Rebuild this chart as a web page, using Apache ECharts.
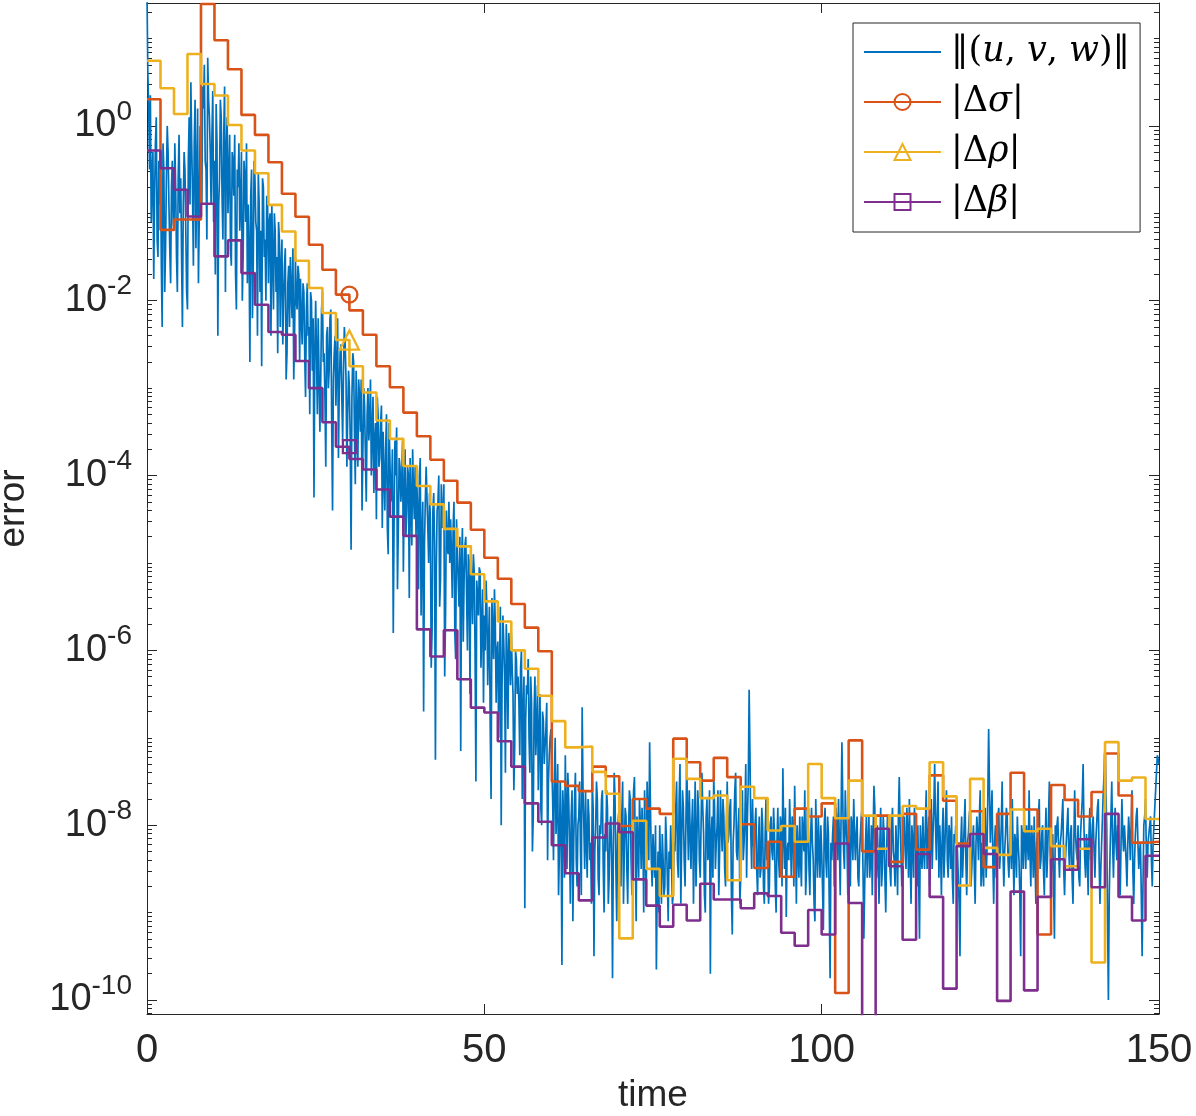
<!DOCTYPE html>
<html lang="en">
<head>
<meta charset="UTF-8">
<title>error vs time</title>
<script src="https://cdn.jsdelivr.net/npm/echarts@6/dist/echarts.min.js"></script>
<style>
  html, body { margin: 0; padding: 0; background: #fff; }
  #chart { width: 1196px; height: 1116px; }
</style>
</head>
<body>
<div id="chart"></div>
<script>
// log10 of ||(u,v,w)||: one sample every 0.25 time units ...
var sampleStep = 0.25;
var normLog = [
  1.5, 0.2, 0.35, -0.6, -1.75, -0.2, -1.3, -0.4, -0.3, -2.3, -0.5, -1.4, 0.0, -0.9, -1.8, -0.4, -1.2, -0.7, -1.9, -0.1,
  -0.6, -2.3, -0.3, -1.2, -2.1, 0.1, 0.5, -0.8, -0.2, -1.4, 0.2, -1.0, -0.3, 0.45, 0.7, -0.5, 0.78, 0.1, -0.9, 0.4,
  -0.4, 0.25, -2.4, -0.6, 0.1, -1.3, 0.45, -0.3, -1.0, -0.1, -1.6, -0.4, -0.1, -2.1, -0.7, -1.2, -0.3, -1.5, -0.6, -0.2,
  -0.9, -2.7, -0.5, -1.6, -0.6, -1.2, -0.55, -1.9, -2.75, -0.7, -1.3, -0.8, -1.8, -1.0, -0.9, -2.1, -1.2, -1.5, -1.1, -2.3,
  -1.3, -2.0, -1.4, -2.6, -1.6, -1.5, -2.2, -2.9, -1.5, -2.1, -1.7, -1.75, -2.5, -1.9, -3.1, -1.8, -2.3, -1.9, -2.8, -4.25,
  -2.0, -3.3, -2.2, -2.9, -1.9, -2.6, -3.9, -2.3, -2.8, -2.1, -4.4, -2.6, -3.2, -2.2, -3.0, -2.5, -3.6, -2.3, -2.9, -3.3,
  -3.0, -4.85, -2.6, -3.5, -2.8, -3.9, -3.1, -2.9, -3.7, -3.2, -4.3, -3.0, -3.4, -4.0, -3.1, -3.6, -4.5, -3.3, -3.8, -3.2,
  -3.5, -4.4, -3.3, -4.9, -3.8, -4.2, -5.8, -3.6, -3.45, -4.6, -3.9, -4.1, -5.1, -3.7, -4.4, -4.0, -3.8, -4.8, -4.2, -3.9,
  -4.1, -5.3, -3.8, -4.7, -6.7, -4.3, -3.9, -5.0, -4.5, -5.8, -4.2, -7.25, -4.4, -4.0, -5.2, -4.6, -4.1, -5.6, -4.8, -4.3,
  -4.5, -5.4, -4.3, -6.1, -4.9, -5.5, -7.15, -4.6, -5.2, -4.7, -6.0, -5.0, -4.8, -5.7, -5.1, -7.5, -5.4, -5.05, -6.2, -5.3,
  -5.6, -5.2, -6.4, -5.5, -7.7, -5.8, -5.3, -6.6, -5.9, -6.2, -8.0, -5.6, -6.3, -5.7, -6.9, -6.0, -5.8, -6.5, -7.1, -6.1,
  -6.3, -7.2, -6.0, -6.7, -8.95, -6.4, -6.1, -7.4, -6.6, -7.9, -6.3, -6.9, -7.6, -6.5, -8.0, -6.8, -7.1, -6.6, -7.5, -7.0,
  -7.3, -8.4, -7.0, -7.8, -8.8, -7.5, -9.6, -7.9, -7.2, -8.5, -7.7, -8.9, -7.6, -8.2, -7.4, -8.7, -7.9, -8.3, -6.65, -8.0,
  -7.6, -8.6, -7.9, -8.2, -7.5, -9.5, -8.0, -7.7, -8.8, -8.1, -7.6, -9.0, -8.3, -7.8, -8.6, -7.9, -9.75, -7.4, -8.5, -8.1,
  -7.8, -8.7, -7.5, -8.3, -7.9, -8.9, -7.6, -8.4, -8.0, -7.45, -9.1, -8.2, -7.7, -8.5, -8.1, -7.6, -8.8, -7.9, -7.05, -8.4,
  -8.1, -8.6, -9.65, -8.3, -8.0, -8.9, -8.4, -8.7, -8.2, -9.1, -8.5, -8.0, -8.8, -8.3, -7.5, -8.6, -7.3, -8.2, -7.8, -8.7,
  -7.25, -8.4, -7.6, -8.0, -8.9, -7.5, -8.2, -7.8, -8.6, -7.4, -8.1, -9.0, -7.7, -8.3, -9.7, -7.9, -7.45, -8.5, -8.0, -8.8,
  -7.6, -8.3, -7.9, -8.7, -7.5, -8.1, -7.7, -9.25, -8.0, -7.4, -8.4, -7.8, -8.6, -7.6, -8.2, -7.3, -7.9, -6.45, -8.1, -7.7,
  -8.3, -7.8, -8.8, -7.9, -8.5, -8.0, -8.9, -7.7, -8.2, -8.7, -7.9, -8.4, -8.1, -9.0, -7.8, -8.6, -8.0, -7.35, -8.5, -9.05,
  -8.2, -7.7, -8.6, -8.0, -7.55, -8.9, -8.3, -7.9, -8.7, -8.1, -7.6, -8.5, -8.0, -8.8, -7.8, -8.4, -9.1, -8.2, -7.9, -8.6,
  -8.3, -9.2, -7.8, -8.6, -8.1, -9.75, -8.4, -7.9, -8.5, -8.0, -7.7, -8.8, -7.05, -8.3, -7.6, -8.2, -7.8, -8.7, -8.0, -7.7,
  -8.4, -7.9, -8.7, -8.1, -7.8, -9.3, -8.2, -8.6, -7.9, -8.4, -8.8, -7.55, -8.3, -8.0, -8.9, -7.8, -8.5, -8.1, -9.0, -7.9,
  -8.2, -8.7, -7.8, -8.4, -8.0, -8.8, -7.45, -8.3, -8.6, -7.9, -8.5, -8.1, -7.7, -8.9, -8.2, -7.8, -8.4, -8.0, -9.3, -8.3,
  -7.9, -8.5, -7.6, -8.2, -8.7, -7.7, -8.1, -7.3, -8.4, -7.5, -8.0, -8.8, -7.8, -8.3, -7.6, -8.6, -8.1, -7.9, -8.9, -8.2,
  -8.0, -8.6, -9.5, -7.9, -8.3, -7.7, -8.8, -8.1, -7.8, -8.5, -8.0, -8.9, -7.9, -8.4, -7.6, -8.2, -8.7, -7.8, -8.3, -6.9,
  -8.2, -7.6, -8.9, -8.0, -8.5, -7.8, -8.3, -7.5, -8.7, -8.1, -7.9, -8.6, -8.0, -7.7, -8.8, -8.2, -7.9, -8.4, -9.5, -8.1,
  -7.8, -8.5, -8.0, -7.6, -8.7, -8.2, -7.9, -8.9, -8.1, -7.7, -8.4, -8.0, -8.8, -7.8, -8.3, -7.5, -8.6, -8.1, -9.3, -8.2,
  -7.9, -8.6, -8.1, -7.7, -8.8, -8.2, -7.8, -8.5, -8.0, -8.9, -7.6, -8.3, -8.0, -8.7, -7.9, -7.3, -8.4, -8.1, -8.8, -7.8,
  -8.3, -7.9, -8.6, -8.0, -7.7, -8.9, -8.2, -7.6, -7.05, -8.0, -10.0, -8.3, -7.5, -8.6, -7.8, -8.4, -8.1, -8.8, -7.7, -8.3,
  -8.0, -8.7, -7.9, -8.4, -7.6, -8.9, -8.1, -7.8, -8.5, -8.2, -9.5, -8.0, -7.7, -8.6, -8.1, -7.9, -8.7, -8.0, -7.6, -7.2,
  -7.3
];
// ... and the samples in between, at 0.125 + 0.25 i
var normLogMid = [
  0.6, -0.5, -1.1, -0.3, -0.8, 0.1, -1.5, -0.9, -1.6, -0.2, -1.9, -0.6, -0.3, -1.4, -0.7, -1.1, -0.2, -1.5, -0.6, -1.0,
  -1.5, -0.9, -0.5, -1.9, -0.4, -0.9, -0.2, -1.6, 0.3, -0.6, -1.8, 0.0, -0.9, 0.2, -0.4, -1.3, 0.3, -0.3, -0.1, -1.1,
  -1.7, -0.2, -0.9, 0.3, -0.8, -0.1, -1.9, 0.1, -0.6, -1.4, -0.3, -0.8, -1.7, -0.5, -0.2, -0.9, -2.0, -0.4, -1.1, -1.8,
  -1.4, -0.8, -2.2, -0.4, -1.1, -2.4, -0.9, -1.2, -0.6, -1.5, -2.0, -0.9, -1.1, -2.4, -1.5, -1.0, -1.9, -2.6, -1.3, -1.6,
  -2.5, -1.6, -2.9, -1.8, -2.3, -1.9, -1.4, -2.4, -2.0, -1.6, -2.7, -2.2, -1.8, -2.6, -2.1, -2.4, -3.3, -2.0, -2.2, -2.6,
  -2.6, -2.2, -3.5, -2.1, -2.7, -3.1, -2.4, -3.0, -2.2, -3.4, -2.9, -2.4, -2.7, -3.8, -2.6, -3.1, -2.8, -2.5, -3.9, -2.8,
  -3.6, -3.1, -2.7, -4.1, -3.3, -2.9, -3.5, -4.4, -3.0, -3.8, -3.3, -3.6, -2.9, -3.5, -4.2, -3.4, -3.1, -3.9, -3.4, -4.6,
  -4.0, -3.7, -4.6, -3.4, -4.3, -3.7, -4.5, -4.0, -5.3, -3.8, -4.3, -3.6, -4.2, -4.7, -3.9, -5.4, -4.3, -3.7, -4.5, -4.7,
  -4.4, -4.0, -5.6, -4.3, -4.8, -3.9, -4.6, -4.2, -6.2, -4.4, -4.8, -5.1, -4.3, -5.5, -4.1, -4.5, -6.3, -4.4, -4.9, -5.0,
  -4.9, -4.6, -5.8, -4.5, -5.2, -4.7, -5.0, -5.9, -4.8, -5.4, -4.9, -6.5, -5.2, -4.9, -6.0, -5.2, -5.6, -5.1, -5.7, -6.6,
  -6.0, -5.5, -5.9, -6.9, -5.4, -6.1, -5.7, -6.0, -7.0, -5.5, -6.4, -5.9, -7.4, -6.1, -5.8, -6.4, -6.2, -7.6, -6.0, -6.5,
  -6.6, -6.2, -7.7, -6.3, -6.8, -6.5, -7.0, -6.3, -8.3, -6.7, -7.2, -6.4, -7.0, -7.8, -6.7, -7.3, -6.9, -8.4, -7.2, -6.9,
  -7.7, -7.5, -8.1, -7.3, -8.3, -8.0, -7.6, -8.6, -7.8, -7.4, -8.2, -7.9, -9.1, -7.7, -8.4, -8.0, -7.5, -8.8, -7.6, -8.5,
  -8.2, -7.7, -8.4, -8.9, -7.8, -8.3, -7.5, -8.6, -8.0, -7.7, -8.5, -8.1, -7.6, -8.9, -8.0, -8.4, -8.2, -7.7, -9.1, -7.9,
  -8.3, -7.9, -8.9, -7.8, -8.5, -8.1, -7.7, -8.8, -7.6, -8.3, -7.9, -8.6, -8.0, -7.8, -9.0, -8.3, -7.5, -8.4, -7.8, -8.7,
  -8.4, -8.0, -8.7, -9.0, -8.5, -8.1, -8.8, -7.9, -8.6, -8.3, -8.0, -8.9, -8.2, -7.8, -8.4, -7.7, -8.9, -7.6, -8.4, -8.0,
  -7.9, -7.6, -8.5, -7.7, -8.2, -8.7, -7.6, -8.4, -8.0, -7.8, -8.8, -7.9, -8.4, -7.6, -8.1, -8.6, -7.8, -8.2, -7.6, -8.3,
  -8.0, -7.7, -8.5, -8.0, -8.2, -7.8, -8.8, -8.2, -7.6, -8.3, -8.0, -8.9, -7.7, -8.4, -7.9, -8.6, -7.5, -7.2, -8.5, -8.2,
  -8.0, -8.5, -8.2, -8.6, -7.8, -8.7, -8.1, -8.4, -8.9, -8.0, -8.3, -7.8, -8.7, -8.2, -8.4, -7.9, -8.7, -8.1, -7.8, -8.3,
  -8.4, -8.1, -7.9, -8.7, -8.2, -8.0, -8.6, -8.4, -7.9, -8.3, -8.8, -7.8, -8.5, -8.1, -8.2, -8.9, -7.7, -8.6, -8.3, -8.0,
  -8.7, -8.0, -8.4, -7.9, -8.9, -8.2, -8.1, -8.7, -7.8, -8.4, -8.2, -7.9, -7.7, -8.5, -8.0, -8.8, -8.3, -7.9, -8.4, -8.1,
  -8.1, -8.6, -8.3, -7.9, -8.5, -8.7, -7.9, -8.2, -8.6, -8.0, -8.1, -7.8, -8.6, -8.4, -8.2, -8.7, -7.9, -8.6, -8.3, -8.2,
  -8.5, -8.0, -8.3, -8.7, -8.3, -7.9, -8.0, -8.7, -8.1, -8.3, -7.8, -8.6, -8.4, -8.0, -8.6, -8.1, -8.7, -8.6, -8.0, -8.5,
  -8.3, -8.0, -8.5, -7.9, -8.2, -8.5, -7.8, -8.0, -7.9, -8.6, -8.3, -8.1, -8.6, -7.9, -8.4, -8.0, -8.5, -8.6, -8.1, -8.0,
  -8.3, -8.9, -8.2, -8.6, -8.0, -8.4, -8.2, -7.9, -8.7, -8.2, -8.5, -8.2, -8.1, -7.9, -8.7, -8.5, -8.0, -8.6, -7.7, -7.6,
  -7.9, -8.4, -8.2, -8.6, -7.9, -8.5, -8.0, -8.3, -8.3, -7.8, -8.4, -8.2, -8.5, -8.3, -8.1, -8.6, -8.2, -8.8, -8.0, -8.5,
  -8.2, -8.0, -8.4, -8.3, -8.0, -8.6, -8.4, -8.2, -7.9, -8.5, -8.1, -8.5, -8.2, -8.6, -7.9, -8.3, -8.4, -8.7, -8.0, -8.0,
  -8.3, -8.2, -7.9, -8.5, -8.4, -8.0, -8.3, -8.1, -8.6, -8.2, -8.1, -8.4, -8.6, -8.1, -7.7, -8.0, -8.6, -8.3, -8.1, -8.4,
  -8.0, -8.3, -8.2, -7.8, -8.4, -8.5, -7.9, -7.4, -7.6, -9.1, -8.8, -7.9, -8.2, -8.1, -8.2, -8.0, -8.5, -8.2, -8.1, -8.0,
  -8.4, -8.2, -8.1, -8.0, -8.5, -8.4, -7.9, -8.2, -8.3, -8.8, -8.7, -7.9, -8.3, -8.2, -8.0, -8.4, -8.2, -7.8, -7.4, -7.25
];

// log10 of the parameter errors, one level per 2 time units (75 steps)
var stepWidth = 2;
var sigmaLog = [
  0.305, -1.19, -1.07, -1.07, 1.394, 0.98, 0.648, 0.126, -0.103, -0.415,
  -0.777, -1.04, -1.36, -1.646, -1.93, -2.11, -2.39, -2.75, -2.99, -3.28,
  -3.55, -3.82, -4.06, -4.31, -4.62, -4.94, -5.18, -5.47, -5.74, -6.01,
  -7.50, -7.55, -7.61, -7.33, -7.44, -8.01, -7.70, -7.81, -7.87, -7.01,
  -7.28, -7.49, -7.23, -7.45, -7.99, -8.49, -8.19, -8.59, -7.81, -7.90,
  -7.75, -9.92, -7.03, -8.30, -7.89, -8.42, -7.87, -8.28, -7.43, -7.72,
  -8.21, -7.84, -8.48, -7.87, -7.40, -7.82, -9.25, -7.54, -7.71, -7.90,
  -7.62, -7.18, -7.66, -8.20, -8.19
];
var rhoLog = [
  0.746, 0.43, 0.137, 0.823, 0.48, 0.347, 0.011, -0.282, -0.541, -0.903,
  -1.208, -1.543, -1.855, -2.14, -2.45, -2.75, -3.05, -3.37, -3.58, -3.89,
  -4.12, -4.33, -4.61, -4.81, -5.13, -5.44, -5.67, -6.00, -6.21, -6.52,
  -6.81, -7.11, -7.10, -7.39, -7.64, -9.295, -7.95, -8.50, -8.81, -7.24,
  -7.47, -7.69, -7.66, -8.63, -7.56, -7.69, -8.06, -8.01, -8.19, -7.30,
  -7.69, -7.92, -7.49, -7.89, -8.27, -7.89, -7.78, -7.81, -7.28, -7.67,
  -8.69, -7.47, -8.26, -8.34, -7.82, -8.07, -8.04, -8.24, -8.47, -8.27,
  -9.57, -7.05, -7.49, -7.455, -7.93
];
var betaLog = [
  -0.282, -0.484, -0.731, -1.036, -0.891, -1.493, -1.31, -1.684, -2.046, -2.358,
  -2.389, -2.69, -3.00, -3.39, -3.67, -3.81, -3.93, -4.16, -4.47, -4.69,
  -5.76, -6.07, -5.77, -6.33, -6.655, -6.71, -7.04, -7.33, -7.75, -7.96,
  -8.23, -8.55, -8.86, -8.14, -7.98, -8.08, -8.62, -8.92, -9.16, -8.91,
  -9.09, -8.67, -8.85, -8.85, -8.95, -8.78, -8.81, -9.23, -9.38, -8.97,
  -9.25, -8.21, -8.89, -10.3, -8.04, -8.47, -9.31, -8.33, -8.82, -9.87,
  -8.24, -8.10, -8.33, -10.01, -8.76, -9.89, -8.82, -8.39, -8.51, -8.16,
  -8.71, -7.87, -8.82, -9.09, -8.35
];
var markerStep = 14;   // the marker sits on the end of this step (t = 30)

// axes
var xTicks = [0, 50, 100, 150];
var yLogMin = -10.16, yLogMax = 1.406;
var yMajorExp = [-10, -8, -6, -4, -2, 0];
var minorMantissa = [1, 2, 3, 4, 5, 6, 7, 8, 9];

var C_TEXT = '#262626';
var C_NORM = '#0072BD', C_SIGMA = '#D95319', C_RHO = '#EDB120', C_BETA = '#7E2F8E';

var yMinorExp = [];
for (var k = -11; k <= 1; k++) {
  minorMantissa.forEach(function (m) {
    var v = k + Math.log10(m);
    if (m === 1 && yMajorExp.indexOf(k) >= 0) return;
    if (v > yLogMin && v < yLogMax) yMinorExp.push(v);
  });
}

var normData = [];
normLog.forEach(function (v, i) {
  normData.push([i * sampleStep, Math.pow(10, v)]);
  if (i < normLogMid.length) normData.push([(i + 0.5) * sampleStep, Math.pow(10, normLogMid[i])]);
});

function stepData(levels) {
  var pts = [{ value: [0, Math.pow(10, levels[0])], symbol: 'none' }];
  levels.forEach(function (v, i) {
    var item = { value: [(i + 1) * stepWidth, Math.pow(10, v)] };
    if (i !== markerStep) item.symbol = 'none';
    pts.push(item);
  });
  return pts;
}

var legendText = {
  '‖(u, v, w)‖': '{n|‖(}{i|u}{n|, }{i|v}{n|, }{i|w}{n|)‖}',
  '|Δσ|': '{n||Δ}{i|σ}{n||}',
  '|Δρ|': '{n||Δ}{i|ρ}{n||}',
  '|Δβ|': '{n||Δ}{i|β}{n||}'
};

function stairs(name, levels, color, symbol, size) {
  return {
    name: name, type: 'line', step: 'start', data: stepData(levels),
    xAxisIndex: 0, yAxisIndex: 0,
    symbol: symbol, symbolSize: size, showSymbol: true, showAllSymbol: true,
    lineStyle: { color: color, width: 2.6 },
    itemStyle: { color: 'rgba(255,255,255,0)', borderColor: color, borderWidth: 2.3 },
    emphasis: { disabled: true }
  };
}

function auxY(position, ticks, len, showLine) {
  return {
    type: 'value', min: yLogMin, max: yLogMax, position: position,
    axisLine: { show: showLine, onZero: false, lineStyle: { color: C_TEXT, width: 1 } },
    axisTick: { show: true, customValues: ticks, inside: true, length: len, lineStyle: { color: C_TEXT, width: 1 } },
    axisLabel: { show: false },
    splitLine: { show: false }
  };
}

var labelAxis = auxY('left', yMajorExp, 10, true);
labelAxis.axisLabel = {
  show: true, customValues: yMajorExp, margin: 15, color: C_TEXT,
  formatter: function (v) { return '{b|10}{e|' + Math.round(v) + '}'; },
  rich: {
    b: { fontFamily: 'Liberation Sans', fontSize: 38, lineHeight: 38, color: C_TEXT, verticalAlign: 'bottom' },
    e: { fontFamily: 'Liberation Sans', fontSize: 28, lineHeight: 28, color: C_TEXT, verticalAlign: 'bottom', padding: [0, 0, 19, 0] }
  }
};
labelAxis.name = 'error';
labelAxis.nameLocation = 'middle';
labelAxis.nameRotate = 90;
labelAxis.nameGap = 115;
labelAxis.nameTextStyle = { fontFamily: 'Liberation Sans', fontSize: 37, color: C_TEXT };

var myChart = echarts.init(document.getElementById('chart'));
var option = {
  animation: false,
  backgroundColor: '#fff',
  grid: { left: 147, right: 37, top: 3, bottom: 102, containLabel: false, outerBoundsMode: 'none' },
  legend: {
    orient: 'vertical', left: 853, top: 23,
    padding: [9, 10, 10, 10], itemGap: 10, itemWidth: 77, itemHeight: 20,
    backgroundColor: '#fff', borderColor: C_TEXT, borderWidth: 1, borderRadius: 0,
    selectedMode: false,
    data: [
      { name: '‖(u, v, w)‖', itemStyle: { opacity: 0 } },
      { name: '|Δσ|' }, { name: '|Δρ|' }, { name: '|Δβ|' }
    ],
    formatter: function (name) { return legendText[name]; },
    textStyle: {
      fontFamily: 'DejaVu Serif', fontSize: 35, lineHeight: 40, color: '#000', padding: [0, 0, 0, 5],
      rich: {
        n: { fontFamily: 'DejaVu Serif', fontSize: 35, lineHeight: 40, color: '#000' },
        i: { fontFamily: 'DejaVu Serif', fontStyle: 'italic', fontSize: 35, lineHeight: 40, color: '#000' }
      }
    }
  },
  xAxis: [
    {
      type: 'value', min: 0, max: 150, interval: 50, position: 'bottom',
      axisLine: { onZero: false, lineStyle: { color: C_TEXT, width: 1 } },
      axisTick: { inside: true, length: 10, customValues: xTicks, lineStyle: { color: C_TEXT } },
      axisLabel: { customValues: xTicks, fontFamily: 'Liberation Sans', fontSize: 40, margin: 17, color: C_TEXT },
      splitLine: { show: false },
      name: 'time', nameLocation: 'middle', nameGap: 63,
      nameTextStyle: { fontFamily: 'Liberation Sans', fontSize: 37, color: C_TEXT }
    },
    {
      type: 'value', min: 0, max: 150, interval: 50, position: 'top',
      axisLine: { onZero: false, lineStyle: { color: C_TEXT, width: 1 } },
      axisTick: { inside: true, length: 10, customValues: xTicks, lineStyle: { color: C_TEXT } },
      axisLabel: { show: false },
      splitLine: { show: false }
    }
  ],
  yAxis: [
    { type: 'log', logBase: 10, min: Math.pow(10, yLogMin), max: Math.pow(10, yLogMax), show: false },
    labelAxis,
    auxY('left', yMinorExp, 5, false),
    auxY('right', yMajorExp, 10, true),
    auxY('right', yMinorExp, 5, false)
  ],
  series: [
    {
      name: '‖(u, v, w)‖', type: 'line', data: normData,
      xAxisIndex: 0, yAxisIndex: 0,
      symbol: 'none', showSymbol: false,
      lineStyle: { color: C_NORM, width: 1.7 },
      itemStyle: { color: C_NORM },
      emphasis: { disabled: true }
    },
    stairs('|Δσ|', sigmaLog, C_SIGMA, 'circle', 16),
    stairs('|Δρ|', rhoLog, C_RHO, 'triangle', 19),
    stairs('|Δβ|', betaLog, C_BETA, 'rect', 13)
  ]
};
myChart.setOption(option);
</script>
</body>
</html>
